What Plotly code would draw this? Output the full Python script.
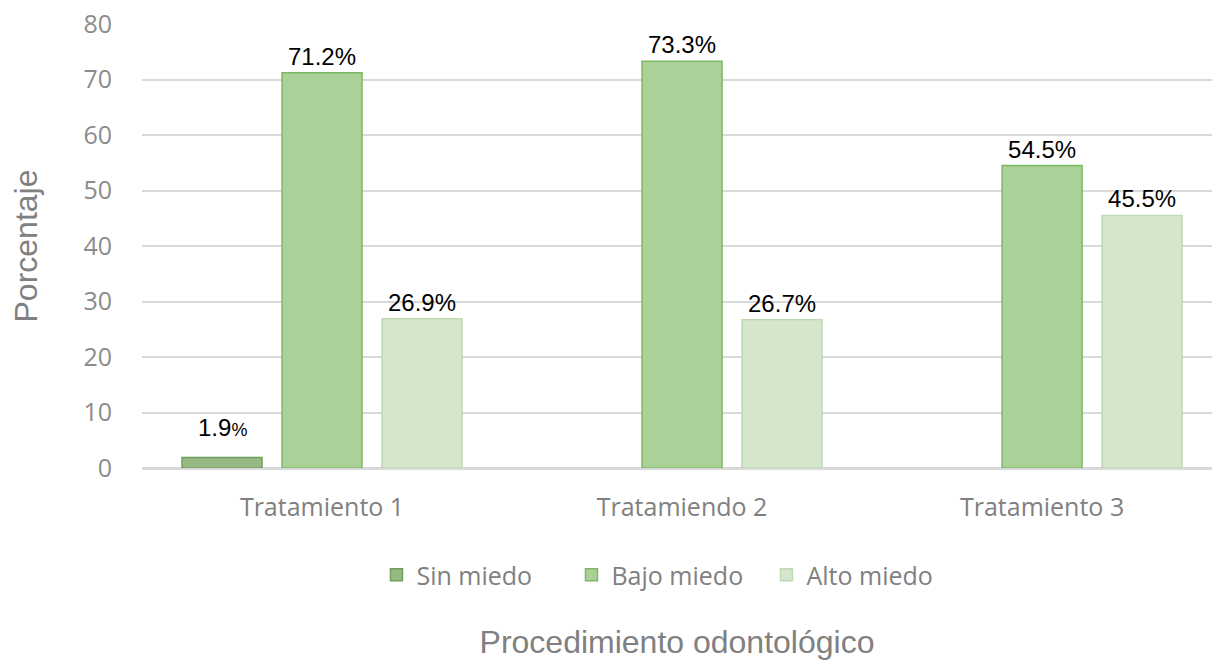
import plotly.graph_objects as go

categories = ["Tratamiento 1", "Tratamiendo 2", "Tratamiento 3"]
series_names = ["Sin miedo", "Bajo miedo", "Alto miedo"]
sin_miedo = [1.9, None, None]
bajo_miedo = [71.2, 73.3, 54.5]
alto_miedo = [26.9, 26.7, 45.5]
y_ticks = [0, 10, 20, 30, 40, 50, 60, 70, 80]

fills = ["#97BA85", "#AAD198", "#D4E6CC"]
borders = ["#6F9E5B", "#7DB862", "#BFDAB2"]

def label(v):
    return "" if v is None else f"{v:.1f}%"

xs = list(range(len(categories)))
fig = go.Figure()
for i, (name, vals) in enumerate(zip(series_names, [sin_miedo, bajo_miedo, alto_miedo])):
    fig.add_trace(go.Bar(
        x=xs, y=vals, name=name,
        marker=dict(color=fills[i], line=dict(color=borders[i], width=1.5)),
        text=[label(v) for v in vals] if i > 0 else None,
        textposition="outside" if i > 0 else "none",
        textfont=dict(family="Liberation Sans, Arial", size=24, color="#000000"),
        cliponaxis=False,
    ))

# label of the small "Sin miedo" bar, with the smaller % sign as in the original
for x, v in zip(xs, sin_miedo):
    if v is not None:
        fig.add_annotation(x=x, y=v, xref="x", yref="y", xshift=-100, yshift=14,
                           yanchor="bottom", showarrow=False,
                           text=f"{v:.1f}<span style='font-size:18px'>%</span>",
                           font=dict(family="Liberation Sans, Arial", size=24, color="#000000"))

fig.update_layout(
    width=1212, height=661,
    margin=dict(l=142, r=0, t=24, b=193),
    paper_bgcolor="white", plot_bgcolor="white",
    barmode="group", bargap=0.1667, bargroupgap=0.2,
    showlegend=True,
    legend=dict(orientation="h", x=0.4925, xanchor="center", y=-0.241, yanchor="middle",
                font=dict(family="Open Sans", size=25, color="#808080"),
                itemwidth=30, entrywidth=150, entrywidthmode="pixels",
                traceorder="normal"),
    xaxis=dict(
        tickmode="array", tickvals=xs, ticktext=categories,
        range=[-0.5, 2.472], showgrid=False, zeroline=False,
        showline=True, linecolor="#D9D9D9", linewidth=1.5,
        ticks="", ticklabelstandoff=16,
        tickfont=dict(family="Open Sans", size=25, color="#808080"),
        title=dict(text="Procedimiento odontológico", standoff=109,
                   font=dict(family="Liberation Sans, Arial", size=32, color="#808080")),
        automargin=False,
    ),
    yaxis=dict(
        range=[0, 80], tickmode="array", tickvals=y_ticks,
        showgrid=True, gridcolor="#D9D9D9", gridwidth=1.5,
        zeroline=True, zerolinecolor="#D9D9D9", zerolinewidth=1.5,
        ticks="", ticklabelstandoff=29,
        tickfont=dict(family="Open Sans", size=25, color="#8C8C8C"),
        title=dict(text="Porcentaje", standoff=36,
                   font=dict(family="Liberation Sans, Arial", size=32, color="#808080")),
        automargin=False,
    ),
)

fig.write_html("out.html", config={"displayModeBar": False},
               post_script="document.body.style.margin='0';document.body.style.overflow='hidden';")
